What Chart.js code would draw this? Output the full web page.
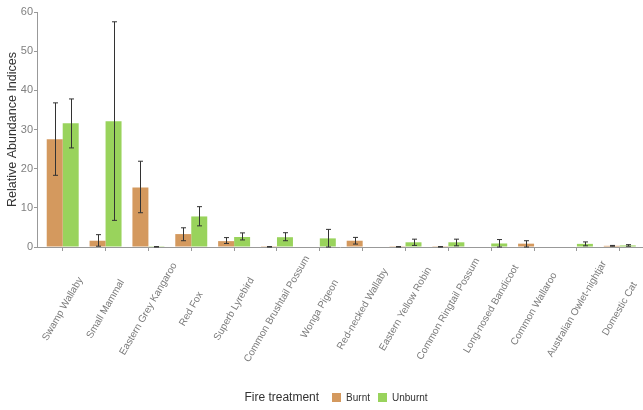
<!DOCTYPE html>
<html>
<head>
<meta charset="utf-8">
<script src="https://cdn.jsdelivr.net/npm/chart.js@4.4.0/dist/chart.umd.min.js"></script>
<style>
  body { margin: 0; background: #fff; }
  #wrap { position: relative; width: 643px; height: 410px; }
  #legend {
    position: absolute; left: 37px; width: 606px; top: 390px; height: 14px;
    display: flex; justify-content: center; align-items: center;
    font-family: "Liberation Sans", Arial, sans-serif; color: #333;
  }
  #legend .title { font-size: 12px; margin-right: 13px; }
  #legend .box { width: 9px; height: 9px; margin-right: 5px; }
  #legend .item { font-size: 10px; margin-right: 8px; }
</style>
</head>
<body>
<div id="wrap">
  <canvas id="grafico"></canvas>
  <div id="legend"></div>
</div>
<script>
const categories = [
  "Swamp Wallaby", "Small Mammal", "Eastern Grey Kangaroo", "Red Fox",
  "Superb Lyrebird", "Common Brushtail Possum", "Wonga Pigeon",
  "Red-necked Wallaby", "Eastern Yellow Robin", "Common Ringtail Possum",
  "Long-nosed Bandicoot", "Common Wallaroo", "Australian Owlet-nightjar", "Domestic Cat"
];
const seriesNames = ["Burnt", "Unburnt"];
const burnt      = [27.5, 1.6, 15.2, 3.3, 1.5, 0.05, 0,    1.6,  0.05, 0.05, 0,    0.85, 0,    0.3];
const burntLow   = [18.3, 0.2, 8.75, 1.6, 0.9, 0,    null, 0.75, 0,    0,    null, 0,    null, 0.2];
const burntHigh  = [36.8, 3.15, 21.9, 4.9, 2.4, 0.1, null, 2.45, 0.1,  0.1,  null, 1.6,  null, 0.4];
const unburnt     = [31.6, 32.1, 0.05, 7.8, 2.55, 2.5, 2.2, 0,    1.2, 1.2, 0.9, 0,    0.8, 0.4];
const unburntLow  = [25.3, 6.8,  0,    5.4, 1.8,  1.6, 0,   null, 0.4, 0.3, 0,   null, 0.3, 0.2];
const unburntHigh = [37.8, 57.5, 0.1,  10.3, 3.6, 3.65, 4.5, null, 2.0, 2.0, 1.9, null, 1.3, 0.6];
const yTicks = [0, 10, 20, 30, 40, 50, 60];

const colors = ["#D4995E", "#99D35C"];
const fontFamily = '"Liberation Sans", Arial, sans-serif';

// barras de erro
const errorBars = {
  id: "errorBars",
  afterDatasetsDraw(chart) {
    const ctx = chart.ctx;
    const ys = chart.scales.y;
    ctx.save();
    ctx.strokeStyle = "#333";
    ctx.lineWidth = 1;
    [[burntLow, burntHigh], [unburntLow, unburntHigh]].forEach(([lo, hi], d) => {
      chart.getDatasetMeta(d).data.forEach((bar, i) => {
        if (lo[i] == null) return;
        const x = Math.round(bar.x) + 0.5;
        const y1 = ys.getPixelForValue(lo[i]);
        const y2 = ys.getPixelForValue(hi[i]);
        ctx.beginPath();
        ctx.moveTo(x, y1); ctx.lineTo(x, y2);
        ctx.moveTo(x - 2.5, y1); ctx.lineTo(x + 2.5, y1);
        ctx.moveTo(x - 2.5, y2); ctx.lineTo(x + 2.5, y2);
        ctx.stroke();
      });
    });
    ctx.restore();
  }
};

// rótulos do eixo x, centrados e girados 60 graus
const xLabels = {
  id: "xLabels",
  afterDraw(chart) {
    const ctx = chart.ctx;
    const xs = chart.scales.x;
    ctx.save();
    ctx.font = "10px " + fontFamily;
    ctx.fillStyle = "#7a7a7a";
    ctx.textAlign = "center";
    ctx.textBaseline = "middle";
    xs.ticks.forEach((t, i) => {
      ctx.save();
      ctx.translate(xs.getPixelForTick(i), xs.top + 62);
      ctx.rotate(-Math.PI / 3);
      ctx.fillText(categories[t.value], 0, 0);
      ctx.restore();
    });
    ctx.restore();
  }
};

new Chart(document.getElementById("grafico"), {
  type: "bar",
  data: {
    labels: categories,
    datasets: [
      { label: seriesNames[0], data: burnt, backgroundColor: colors[0] },
      { label: seriesNames[1], data: unburnt, backgroundColor: colors[1] }
    ]
  },
  options: {
    responsive: true,
    maintainAspectRatio: false,
    animation: false,
    categoryPercentage: 0.746,
    barPercentage: 1,
    layout: { padding: { top: 12, right: 0, bottom: 0, left: 0 } },
    scales: {
      x: {
        offset: false,
        grid: { offset: false, drawOnChartArea: false, tickLength: 4, color: "#999" },
        border: { color: "#999" },
        ticks: { display: false },
        afterBuildTicks: s => { s._startValue = -0.6; s._valueRange = 14.142; },
        afterFit: s => { s.height = 163; }
      },
      y: {
        min: 0,
        max: 60,
        afterBuildTicks: s => { s.ticks = yTicks.map(v => ({ value: v })); },
        afterFit: s => { s.width = 37; },
        grid: { drawOnChartArea: false, tickLength: 3, color: "#999" },
        border: { color: "#999" },
        ticks: { color: "#808080", padding: 1, font: { family: fontFamily, size: 11 } },
        title: {
          display: true,
          text: "Relative Abundance Indices",
          color: "#333",
          padding: { top: 5, bottom: 0 },
          font: { family: fontFamily, size: 12.5 }
        }
      }
    },
    plugins: {
      legend: { display: false },
      tooltip: { enabled: false }
    }
  },
  plugins: [errorBars, xLabels]
});

// legenda
const legend = document.getElementById("legend");
legend.innerHTML = '<span class="title">Fire treatment</span>' +
  seriesNames.map((n, i) =>
    '<span class="box" style="background:' + colors[i] + '"></span><span class="item">' + n + '</span>'
  ).join("");
</script>
</body>
</html>
